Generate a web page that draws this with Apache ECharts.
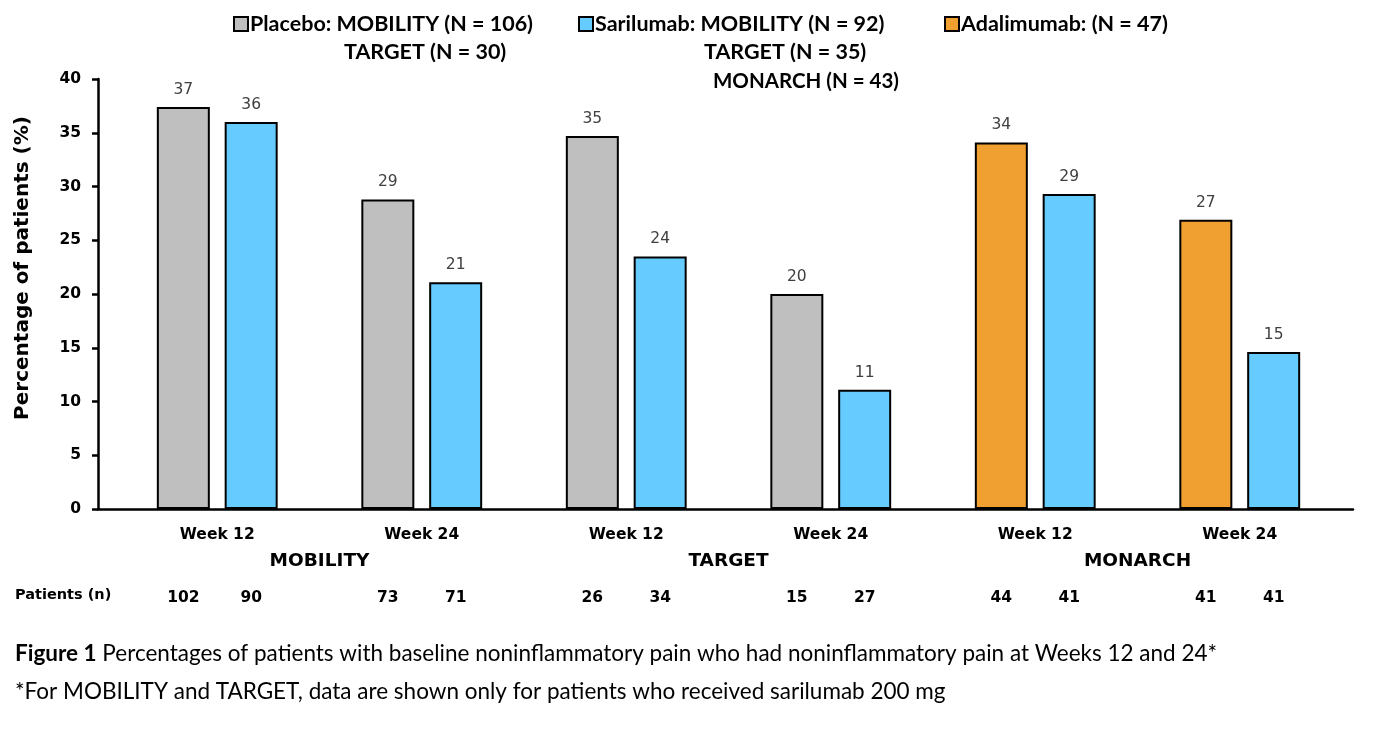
<!DOCTYPE html>
<html><head><meta charset="utf-8">
<script src="https://cdn.jsdelivr.net/npm/echarts@6/dist/echarts.min.js"></script>
<style>html,body{margin:0;padding:0;background:#fff}#c{width:1380px;height:729px}</style>
</head><body><div id="c"></div>
<script>
// ---- data ----
const weeks = ['Week 12', 'Week 24', 'Week 12', 'Week 24', 'Week 12', 'Week 24'];
const studies = ['MOBILITY', 'TARGET', 'MONARCH'];
const placebo = [37.4, 28.8, 34.7, 20.0, '-', '-'];
const adalimumab = ['-', '-', '-', '-', 34.1, 26.9];
const sarilumab = [36.0, 21.1, 23.5, 11.1, 29.3, 14.6];
const patientsControl = [102, 73, 26, 15, 44, 41];
const patientsSarilumab = [90, 71, 34, 27, 41, 41];
const yMin = 0, yMax = 40, yStep = 5;
const legendFirstLine = {
  'Placebo': 'Placebo: MOBILITY (N = 106)',
  'Sarilumab': 'Sarilumab: MOBILITY (N = 92)',
  'Adalimumab': 'Adalimumab: (N = 47)'
};
const legendExtraLines = [
  ['TARGET (N = 30)'],
  ['TARGET (N = 35)', 'MONARCH (N = 43)']
];
const yTitle = 'Percentage of patients (%)';
const patientsTitle = 'Patients (n)';
const captionLead = 'Figure 1';
const captionText = ' Percentages of patients with baseline noninflammatory pain who had noninflammatory pain at Weeks 12 and 24*';
const footnote = '*For MOBILITY and TARGET, data are shown only for patients who received sarilumab 200 mg';

// ---- styles ----
const FC = 'Lato, "Open Sans", sans-serif';
const FV = '"DejaVu Sans", Verdana, sans-serif';
const colors = { Placebo: '#BFBFBF', Sarilumab: '#66CCFF', Adalimumab: '#F0A030' };
const BW = 53, GAP = '28%';

function barSeries(name, data, stack) {
  return {
    name, type: 'bar', data, stack, xAxisIndex: 1, yAxisIndex: 1,
    barWidth: BW, barGap: GAP,
    itemStyle: { color: colors[name], borderColor: '#000', borderWidth: 2 },
    label: { show: true, position: 'top', distance: 9, color: '#404040', fontSize: 15.5, fontFamily: FV,
      formatter: p => Math.round(p.value) }
  };
}
function countSeries(name, data) {
  return {
    name, type: 'bar', data, xAxisIndex: 3, yAxisIndex: 2,
    barWidth: BW, barGap: GAP, silent: true,
    itemStyle: { color: 'rgba(0,0,0,0)' },
    label: { show: true, position: 'insideBottom', distance: 0, color: '#000', fontSize: 15.5, fontWeight: 'bold', fontFamily: FV }
  };
}
function legend(name, left) {
  return {
    data: [name], left, top: 8, icon: 'rect', itemWidth: 14, itemHeight: 14,
    selectedMode: false,
    formatter: n => legendFirstLine[n],
    textStyle: { fontSize: 21.5, fontWeight: 'bold', color: '#000', fontFamily: FC, padding: [0, 0, 0, -3] }
  };
}
const txt = (text, left, top, extra) => ({ type: 'text', left, top,
  style: Object.assign({ text, fontSize: 21.5, fontWeight: 'bold', fill: '#000', fontFamily: FC }, extra || {}) });

const chart = echarts.init(document.getElementById('c'), null, { renderer: 'canvas' });
chart.setOption({
  backgroundColor: '#fff',
  animation: false,
  legend: [legend('Placebo', 228), legend('Sarilumab', 573), legend('Adalimumab', 939)],
  grid: [
    { left: 98, right: 27, top: 79, bottom: 220 },
    { left: 115, right: 38, top: 79, bottom: 220 },
    { left: 115, right: 38, top: 582, height: 24 }
  ],
  xAxis: [
    { gridIndex: 0, type: 'category', data: weeks, axisLine: { lineStyle: { color: '#000', width: 2.5 } },
      axisTick: { show: false }, axisLabel: { show: false } },
    { gridIndex: 1, type: 'category', data: weeks, position: 'bottom', axisLine: { show: false }, axisTick: { show: false },
      axisLabel: { margin: 18, fontSize: 15.5, fontWeight: 'bold', color: '#000', fontFamily: FV } },
    { gridIndex: 1, type: 'category', data: studies, position: 'bottom', axisLine: { show: false }, axisTick: { show: false },
      axisLabel: { margin: 43, fontSize: 18.5, fontWeight: 'bold', color: '#000', fontFamily: FV } },
    { gridIndex: 2, type: 'category', data: weeks, show: false }
  ],
  yAxis: [
    { gridIndex: 0, type: 'value', min: yMin, max: yMax, interval: yStep,
      axisLine: { show: true, lineStyle: { color: '#000', width: 2.5 } },
      axisTick: { show: true, length: 6, lineStyle: { color: '#000', width: 2.5 } },
      splitLine: { show: false },
      axisLabel: { margin: 17, fontSize: 15.5, fontWeight: 'bold', color: '#000', fontFamily: FV } },
    { gridIndex: 1, type: 'value', min: yMin, max: yMax, show: false, splitLine: { show: false } },
    { gridIndex: 2, type: 'value', min: 0, max: 200, show: false, splitLine: { show: false } }
  ],
  series: [
    barSeries('Placebo', placebo, 'control'),
    barSeries('Adalimumab', adalimumab, 'control'),
    barSeries('Sarilumab', sarilumab, 'sari'),
    countSeries('nControl', patientsControl),
    countSeries('nSarilumab', patientsSarilumab)
  ],
  graphic: [
    txt(legendExtraLines[0][0], 344, 41),
    txt(legendExtraLines[1][0], 704, 41),
    txt(legendExtraLines[1][1], 713, 71, { fontSize: 20.5 }),
    { type: 'text', x: 23, y: 268, rotation: Math.PI / 2,
      style: { text: yTitle, fontSize: 20, fontWeight: 'bold', fill: '#000', fontFamily: FV, align: 'center', verticalAlign: 'middle' } },
    txt(patientsTitle, 15, 588, { fontSize: 14.5, fontFamily: FV }),
    { type: 'text', left: 15, top: 642,
      style: { text: '{b|' + captionLead + '}' + captionText, fontSize: 22.5, fill: '#000', fontFamily: FC,
        rich: { b: { fontWeight: 'bold', fontSize: 22.5, fontFamily: FC } } } },
    txt(footnote, 15, 680, { fontSize: 22.5, fontWeight: 'normal' })
  ]
});
</script></body></html>
